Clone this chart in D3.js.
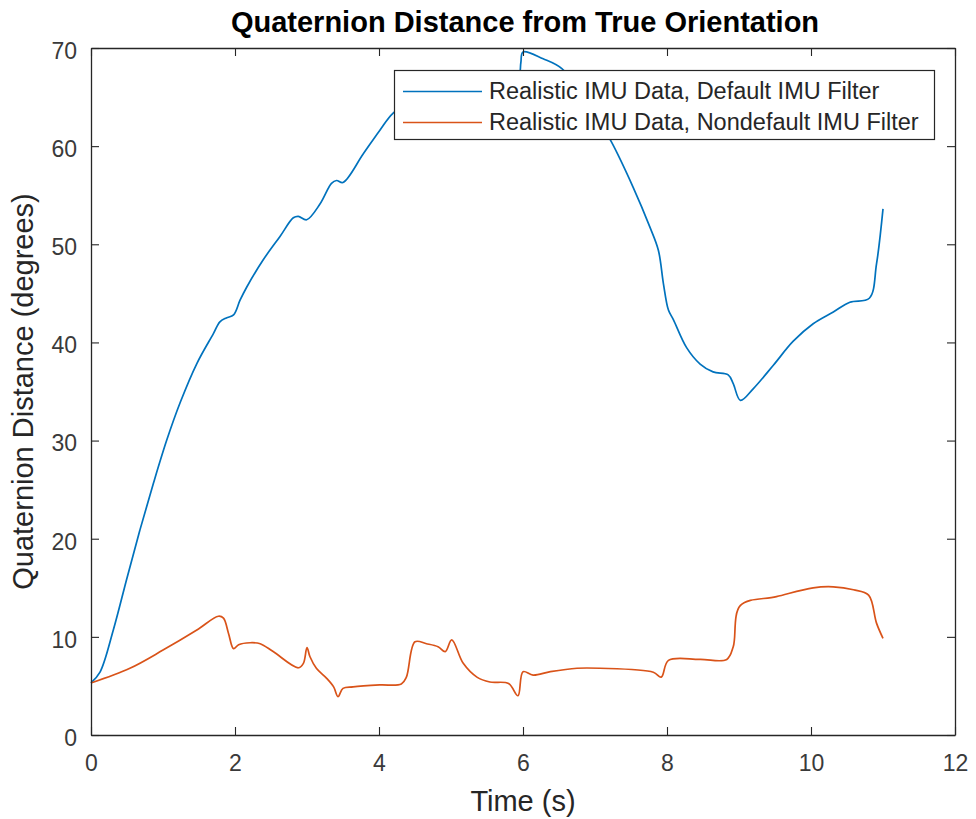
<!DOCTYPE html>
<html><head><meta charset="utf-8">
<script src="https://cdn.jsdelivr.net/npm/d3@7"></script>
<style>body{margin:0;background:#fff}svg{display:block}text{font-family:"Liberation Sans",Arial,sans-serif}</style>
</head><body>
<svg id="c" width="976" height="819"></svg>
<script>
const title = "Quaternion Distance from True Orientation";
const xLabel = "Time (s)";
const yLabel = "Quaternion Distance (degrees)";
const seriesNames = ["Realistic IMU Data, Default IMU Filter", "Realistic IMU Data, Nondefault IMU Filter"];
const xTicks = [0,2,4,6,8,10,12];
const yTicks = [0,10,20,30,40,50,60,70];

const defaultT = [0,0.125,0.31,0.5,0.68,0.865,1.05,1.24,1.47,1.70,1.79,1.88,1.98,2.07,2.16,2.39,2.625,2.81,2.88,2.995,3.18,3.34,3.41,3.5,3.78,4.01,4.2,4.6,5.0,5.4,5.8,5.94,5.97,6.0,6.28,6.54,6.9,7.23,7.53,7.76,7.88,7.95,8.02,8.09,8.27,8.46,8.64,8.85,8.92,9.02,9.2,9.48,9.75,10.03,10.31,10.54,10.81,10.91,11.0];
const defaultD = [5.3,6.4,10.7,16.0,20.9,25.6,30.0,33.9,37.85,40.9,42.1,42.5,42.8,44.3,45.6,48.4,50.8,52.7,52.85,52.5,54.1,56.2,56.5,56.3,59.2,61.6,63.4,65.3,66.3,66.8,67.0,67.2,68.5,69.6,68.9,67.9,64.5,60.4,55.8,51.8,49.4,46,43.3,42.3,39.5,37.8,37.0,36.7,35.8,34.1,35.3,37.7,40.1,41.9,43.1,44.1,44.5,48.0,53.6];

const nondefT = [0,0.54,1.0,1.47,1.77,1.84,1.91,1.98,2.05,2.21,2.35,2.53,2.88,2.95,3.0,3.04,3.13,3.27,3.37,3.43,3.5,3.64,4.01,4.31,4.38,4.5,4.66,4.82,4.92,5.01,5.17,5.36,5.54,5.8,5.93,6.0,6.14,6.38,6.75,7.07,7.81,7.92,8.02,8.46,8.83,8.92,9.02,9.52,10.03,10.31,10.59,10.8,10.91,11.0];
const nondefD = [5.3,6.8,8.65,10.7,12.1,11.9,10.35,8.8,9.2,9.4,9.3,8.5,6.85,7.3,8.9,8.0,6.8,5.8,4.9,3.9,4.75,4.9,5.1,5.2,5.9,9.5,9.3,9.0,8.5,9.7,7.3,5.9,5.4,5.25,4.0,6.45,6.1,6.45,6.8,6.8,6.4,5.9,7.6,7.7,7.7,9.0,13.2,14.1,15.0,15.1,14.8,14.25,11.4,9.85];

const colors = ["#0072BD","#D95319"];
const axisColor = "#262626";
const L = 91, R = 955, T = 48, B = 735;
const svg = d3.select("#c");
const x = d3.scaleLinear().domain([0,12]).range([L,R]);
const y = d3.scaleLinear().domain([0,70]).range([B,T]);

const line = d3.line().x(d=>x(d[0])).y(d=>y(d[1])).curve(d3.curveCatmullRom.alpha(0.5));
const series = [d3.zip(defaultT, defaultD), d3.zip(nondefT, nondefD)];
const plotG = svg.append("g");
series.forEach((s,i)=>{
  plotG.append("path").datum(s).attr("d",line).attr("fill","none")
    .attr("stroke",colors[i]).attr("stroke-width",1.7).attr("stroke-linejoin","round");
});

// axes (inward ticks, box)
const tl = 8;
const fs = "23px";
const gx = svg.append("g").attr("transform",`translate(0,${B})`)
  .call(d3.axisBottom(x).tickValues(xTicks).tickSizeInner(-tl).tickSizeOuter(0).tickPadding(20).tickFormat(d3.format("d")));
const gxt = svg.append("g").attr("transform",`translate(0,${T})`)
  .call(d3.axisTop(x).tickValues(xTicks).tickSizeInner(-tl).tickSizeOuter(0).tickFormat(""));
const gy = svg.append("g").attr("transform",`translate(${L},0)`)
  .call(d3.axisLeft(y).tickValues(yTicks).tickSizeInner(-tl).tickSizeOuter(0).tickPadding(14).tickFormat(d3.format("d")));
const gyr = svg.append("g").attr("transform",`translate(${R},0)`)
  .call(d3.axisRight(y).tickValues(yTicks).tickSizeInner(-tl).tickSizeOuter(0).tickFormat(""));
[gx,gxt,gy,gyr].forEach(g=>{
  g.select(".domain").attr("stroke",axisColor).attr("stroke-width",1.3);
  g.selectAll(".tick line").attr("stroke",axisColor).attr("stroke-width",1.1);
  g.selectAll(".tick text").attr("fill","#3a3a3a").style("font-size",fs).style("font-family","'Liberation Sans',Arial,sans-serif");
});
gy.selectAll(".tick text").attr("dy","0.45em");

svg.append("text").attr("x",(L+R)/2+2).attr("y",32).attr("text-anchor","middle")
  .style("font-size","29px").style("font-weight","bold").attr("fill","#000").text(title);
svg.append("text").attr("x",(L+R)/2).attr("y",811).attr("text-anchor","middle")
  .style("font-size","29px").attr("fill",axisColor).text(xLabel);
svg.append("text").attr("transform",`translate(33,${(T+B)/2}) rotate(-90)`).attr("text-anchor","middle")
  .style("font-size","29px").attr("fill",axisColor).text(yLabel);

// legend
const lg = svg.append("g");
lg.append("rect").attr("x",394.5).attr("y",70.5).attr("width",540).attr("height",69)
  .attr("fill","#fff").attr("stroke",axisColor).attr("stroke-width",1.2);
seriesNames.forEach((n,i)=>{
  const yy = 91.5 + i*31;
  lg.append("line").attr("x1",403).attr("x2",482).attr("y1",yy).attr("y2",yy)
    .attr("stroke",colors[i]).attr("stroke-width",1.7);
  lg.append("text").attr("x",489).attr("y",99 + i*31).style("font-size","23.5px").attr("fill",axisColor).text(n);
});
</script>
</body></html>
